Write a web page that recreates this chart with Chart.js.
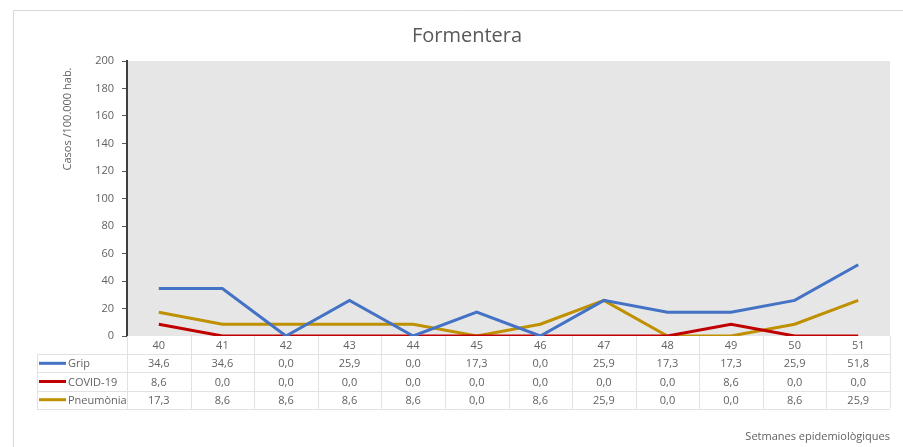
<!DOCTYPE html>
<html>
<head>
<meta charset="utf-8">
<script src="https://cdn.jsdelivr.net/npm/chart.js@4"></script>
<style>
  html, body { margin: 0; padding: 0; background: #fff; }
  #wrap { width: 903px; height: 447px; position: relative; }
</style>
</head>
<body>
<div id="wrap"><canvas id="grafic" width="903" height="447"></canvas></div>
<script>
// setmanes epidemiològiques
const setmanes = ['40', '41', '42', '43', '44', '45', '46', '47', '48', '49', '50', '51'];
// taxes per 100.000 hab.
const grip      = [34.6, 34.6, 0.0, 25.9, 0.0, 17.3, 0.0, 25.9, 17.3, 17.3, 25.9, 51.8];
const covid     = [8.6, 0.0, 0.0, 0.0, 0.0, 0.0, 0.0, 0.0, 0.0, 8.6, 0.0, 0.0];
const pneumonia = [17.3, 8.6, 8.6, 8.6, 8.6, 0.0, 8.6, 25.9, 0.0, 0.0, 8.6, 25.9];

const FONT = '"Open Sans", "Noto Sans", sans-serif';
const TXT = '#626262';
const LINIA = '#e2e2e2';

const series = [
  { nom: 'Grip', dades: grip, color: '#4472c4' },
  { nom: 'COVID-19', dades: covid, color: '#c00000' },
  { nom: 'Pneumònia', dades: pneumonia, color: '#bf9000' }
];

const fmt = v => v.toFixed(1).replace('.', ',');

// fons gris, marc, títols i taula de dades
const decoracio = {
  id: 'decoracio',
  beforeDraw(chart) {
    const { ctx, chartArea: a } = chart;
    ctx.save();
    ctx.fillStyle = '#e6e6e6';
    ctx.fillRect(a.left, a.top, a.right - a.left, a.bottom - a.top);
    // marc exterior
    ctx.strokeStyle = '#d9d9d9';
    ctx.lineWidth = 1;
    ctx.beginPath();
    ctx.moveTo(13.5, 447);
    ctx.lineTo(13.5, 10.5);
    ctx.lineTo(903, 10.5);
    ctx.stroke();
    ctx.restore();
  },
  afterDraw(chart) {
    const { ctx, chartArea: a } = chart;
    const x = chart.scales.x;
    ctx.save();
    // títol
    ctx.fillStyle = '#595959';
    ctx.font = '20px ' + FONT;
    ctx.textAlign = 'center';
    ctx.textBaseline = 'middle';
    ctx.fillText('Formentera', 467, 36);

    // títol eix Y
    ctx.fillStyle = TXT;
    ctx.font = '11px ' + FONT;
    ctx.save();
    ctx.translate(68, 119);
    ctx.rotate(-Math.PI / 2);
    ctx.fillText('Casos /100.000 hab.', 0, 0);
    ctx.restore();

    // títol eix X
    ctx.textAlign = 'right';
    ctx.fillText('Setmanes epidemiològiques', 890, 437);

    // taula
    const colW = (a.right - a.left) / setmanes.length;
    const rowH = 18.2;
    const top = a.bottom;
    const left = 37;
    ctx.strokeStyle = LINIA;
    ctx.lineWidth = 1;
    ctx.beginPath();
    // línies horitzontals
    for (let r = 1; r <= series.length + 1; r++) {
      const y = Math.round(top + r * rowH) + 0.5;
      ctx.moveTo(left, y);
      ctx.lineTo(a.right, y);
    }
    // línies verticals
    for (let c = 0; c <= setmanes.length; c++) {
      const xx = Math.round(a.left + c * colW) + 0.5;
      ctx.moveTo(xx, top);
      ctx.lineTo(xx, top + (series.length + 1) * rowH);
    }
    ctx.moveTo(left + 0.5, top + rowH);
    ctx.lineTo(left + 0.5, top + (series.length + 1) * rowH);
    ctx.stroke();

    ctx.fillStyle = TXT;
    ctx.font = '11px ' + FONT;
    ctx.textAlign = 'center';
    ctx.textBaseline = 'middle';
    setmanes.forEach((s, i) => {
      ctx.fillText(s, x.getPixelForValue(i), top + rowH / 2 + 1);
    });
    series.forEach((s, r) => {
      const yc = top + (r + 1.5) * rowH + 1;
      ctx.strokeStyle = s.color;
      ctx.lineWidth = 3;
      ctx.beginPath();
      ctx.moveTo(39, yc - 1);
      ctx.lineTo(66, yc - 1);
      ctx.stroke();
      ctx.fillStyle = TXT;
      ctx.textAlign = 'left';
      ctx.fillText(s.nom, 68, yc);
      ctx.textAlign = 'center';
      s.dades.forEach((v, i) => {
        ctx.fillText(fmt(v), x.getPixelForValue(i), yc);
      });
    });
    ctx.restore();
  }
};

new Chart(document.getElementById('grafic'), {
  type: 'line',
  data: {
    labels: setmanes,
    datasets: series.map(s => ({
      label: s.nom,
      data: s.dades,
      borderColor: s.color,
      backgroundColor: s.color,
      borderWidth: 3,
      pointRadius: 0,
      tension: 0
    }))
  },
  options: {
    responsive: false,
    animation: false,
    layout: { padding: { left: 0, top: 61, right: 13, bottom: 111 } },
    scales: {
      x: { display: false, offset: true },
      y: {
        min: 0,
        max: 200,
        afterFit(scale) { scale.width = 127; },
        ticks: { stepSize: 20, color: TXT, font: { family: FONT, size: 11 }, padding: 8 },
        grid: { drawOnChartArea: false, drawTicks: true, tickLength: 5, color: '#595959' },
        border: { display: true, color: '#404040', width: 2 }
      }
    },
    plugins: {
      legend: { display: false },
      title: { display: false },
      tooltip: { enabled: false }
    }
  },
  plugins: [decoracio]
});
</script>
</body>
</html>
